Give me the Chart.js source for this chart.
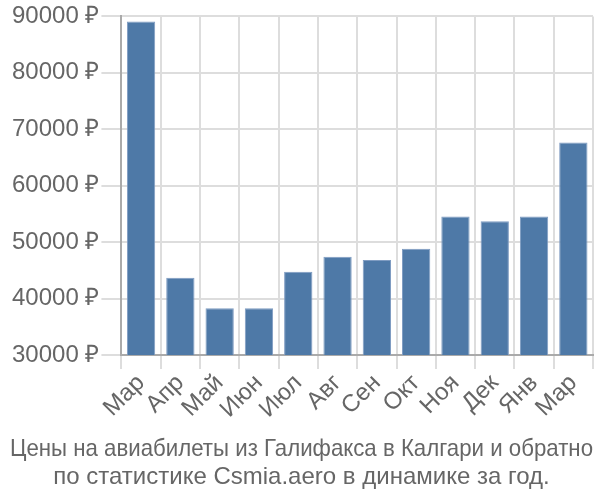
<!DOCTYPE html>
<html><head><meta charset="utf-8">
<script src="https://cdn.jsdelivr.net/npm/chart.js@4/dist/chart.umd.min.js"></script>
<style>html,body{margin:0;padding:0;background:#fff}#w{width:600px;height:500px}</style>
</head><body><div id="w"><canvas id="c"></canvas></div>
<script>
const categories = ["Мар","Апр","Май","Июн","Июл","Авг","Сен","Окт","Ноя","Дек","Янв","Мар"];
const prices = [89100, 43700, 38300, 38300, 44750, 47400, 46850, 48850, 54550, 53700, 54550, 67650];
const yTicks = [30000, 40000, 50000, 60000, 70000, 80000, 90000];
const titleLines = ["Цены на авиабилеты из Галифакса в Калгари и обратно", "по статистике Csmia.aero в динамике за год."];

Chart.defaults.font.family = "'Liberation Sans', Arial, sans-serif";
Chart.defaults.color = '#666';
new Chart(document.getElementById('c'), {
  type: 'bar',
  data: { labels: categories, datasets: [{ data: prices, backgroundColor: '#4e79a7', borderColor: '#7f9cc2', borderWidth: 1, barPercentage: 0.9, categoryPercentage: 0.8 }] },
  options: {
    responsive: true, maintainAspectRatio: false, animation: false,
    layout: { padding: { top: 4, right: 7, left: 10, bottom: 0 } },
    plugins: {
      legend: { display: false }, tooltip: { enabled: false },
      title: { display: true, position: 'bottom', text: titleLines, font: { size: 24, weight: 'normal', lineHeight: 1.17 }, color: '#666', padding: { top: 11, bottom: 9 } }
    },
    scales: {
      x: { grid: { color: '#ddd', lineWidth: 2, offset: true, tickLength: 14 }, border: { color: '#aaa', width: 2 },
           ticks: { font: { size: 24 }, color: '#666', maxRotation: 45, minRotation: 45, padding: 0, autoSkip: false } },
      y: { min: 30000, max: 90000, afterBuildTicks: a => { a.ticks = yTicks.map(v => ({ value: v })); },
           grid: { color: '#ddd', lineWidth: 2, tickLength: 20 }, border: { color: '#aaa', width: 2 },
           ticks: { font: { size: 24 }, color: '#666', padding: 2, callback: v => v + ' ₽' } }
    }
  }
});
</script></body></html>
